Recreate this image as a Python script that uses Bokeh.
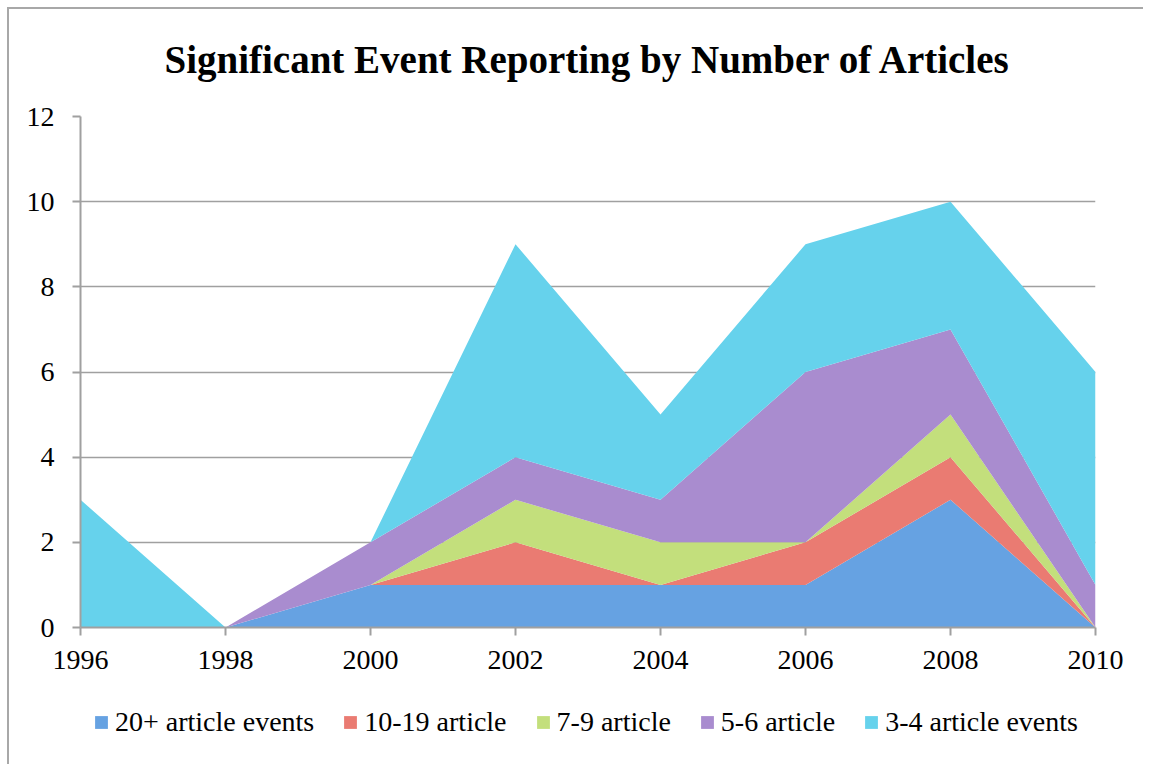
from bokeh.plotting import figure
from bokeh.layouts import column
from bokeh.models import Legend, LegendItem, FixedTicker, ColumnDataSource
from bokeh.embed import file_html
from bokeh.resources import INLINE

years = [1996, 1998, 2000, 2002, 2004, 2006, 2008, 2010]
s20 = [0, 0, 1, 1, 1, 1, 3, 0]
s10 = [0, 0, 0, 1, 0, 1, 1, 0]
s7 = [0, 0, 0, 1, 1, 0, 1, 0]
s5 = [0, 0, 1, 1, 1, 4, 2, 1]
s3 = [3, 0, 0, 5, 2, 3, 3, 5]
labels = ["20+ article events", "10-19 article", "7-9 article", "5-6 article", "3-4 article events"]
colors = ["#66a2e2", "#ea7b72", "#c3df7c", "#a98ccf", "#66d2ec"]
keys = ["s20", "s10", "s7", "s5", "s3"]
yticks = [0, 2, 4, 6, 8, 10, 12]

src = ColumnDataSource(dict(year=years, s20=s20, s10=s10, s7=s7, s5=s5, s3=s3))

FONT = "Liberation Serif"
GRAY = "#a0a0a0"

p = figure(frame_width=1015, frame_height=511, x_range=(1996, 2010), y_range=(0, 12),
           output_backend="svg", toolbar_location=None,
           min_border_left=80, min_border_right=48, min_border_top=116, min_border_bottom=60)
p.border_fill_alpha = 0
p.background_fill_alpha = 0
p.outline_line_color = None

p.title.text = "Significant Event Reporting by Number of Articles"
p.title.align = "center"
p.title.text_font = FONT
p.title.text_font_size = "39px"
p.title.text_font_style = "bold"
p.title.text_color = "black"
p.title.standoff = 71

rs = p.varea_stack(keys, x="year", color=colors, source=src)

p.xgrid.visible = False
p.ygrid.ticker = FixedTicker(ticks=yticks)
p.ygrid.grid_line_color = GRAY
p.ygrid.grid_line_width = 1.5
p.ygrid.level = "underlay"

p.xaxis.ticker = FixedTicker(ticks=years)
p.yaxis.ticker = FixedTicker(ticks=yticks)
for ax in (p.xaxis[0], p.yaxis[0]):
    ax.axis_line_color = GRAY
    ax.axis_line_width = 2
    ax.major_tick_line_color = GRAY
    ax.major_tick_line_width = 2
    ax.major_tick_out = 8
    ax.major_tick_in = 0
    ax.minor_tick_line_color = None
    ax.major_label_text_font = FONT
    ax.major_label_text_font_size = "28px"
    ax.major_label_text_color = "black"
p.xaxis.major_label_standoff = 15
p.yaxis.major_label_standoff = 18

# legend in its own strip below the chart (its renderers fall outside its visible range)
lf = figure(width=1143, height=77, x_range=(0, 1), y_range=(0, 1),
            x_axis_type=None, y_axis_type=None, output_backend="svg",
            toolbar_location=None, min_border=0)
lf.grid.visible = False
lf.outline_line_color = None
lf.border_fill_alpha = 0
lf.background_fill_alpha = 0
lrs = lf.varea_stack(keys, x="year", color=colors, source=src)

legend = Legend(items=[LegendItem(label=l, renderers=[r]) for l, r in zip(labels, lrs)],
                orientation="horizontal", location=(13, 26))
legend.label_text_font = FONT
legend.label_text_font_size = "28px"
legend.label_text_color = "black"
legend.glyph_width = 16
legend.glyph_height = 16
legend.label_standoff = 6
legend.spacing = 28
legend.border_line_color = None
legend.background_fill_alpha = 0
legend.padding = 4
legend.margin = 0
lf.add_layout(legend)

layout = column(p, lf, spacing=0)
layout.styles = {"background-color": "white",
                 "box-shadow": "inset 7px 7px 0 white, inset 9px 9px 0 #a8a8a8"}

open("out.html", "w").write(file_html(layout, INLINE))
